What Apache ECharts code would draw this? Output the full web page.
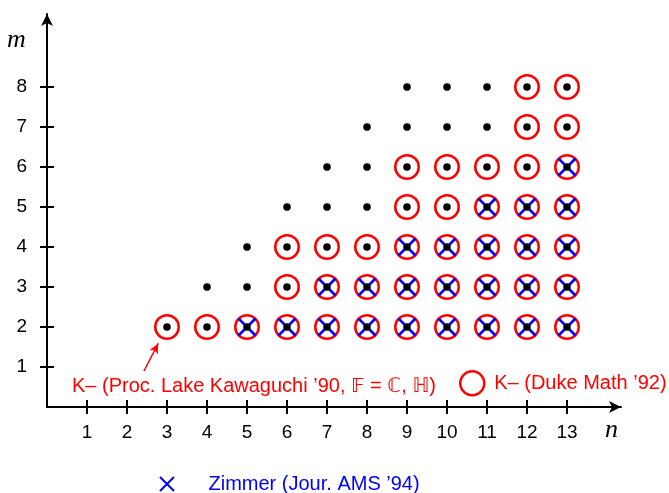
<!DOCTYPE html>
<html><head><meta charset="utf-8">
<script src="https://cdn.jsdelivr.net/npm/echarts@6/dist/echarts.min.js"></script>
<style>html,body{margin:0;padding:0;background:#fff}#c{width:669px;height:493px}</style>
</head><body><div id="c"></div>
<script>
// tick labels
const nTicks = [1,2,3,4,5,6,7,8,9,10,11,12,13];
const mTicks = [1,2,3,4,5,6,7,8];
// rows (m) and the n values present in each row
const rowM = [2,3,4,5,6,7,8];
const dotN = [
  [3,4,5,6,7,8,9,10,11,12,13],
  [4,5,6,7,8,9,10,11,12,13],
  [5,6,7,8,9,10,11,12,13],
  [6,7,8,9,10,11,12,13],
  [7,8,9,10,11,12,13],
  [8,9,10,11,12,13],
  [9,10,11,12,13]
];
const circleN = [
  [3,4,5,6,7,8,9,10,11,12,13],
  [6,7,8,9,10,11,12,13],
  [6,7,8,9,10,11,12,13],
  [9,10,11,12,13],
  [9,10,11,12,13],
  [12,13],
  [12,13]
];
const crossN = [
  [5,6,7,8,9,10,11,12,13],
  [7,8,9,10,11,12,13],
  [9,10,11,12,13],
  [11,12,13],
  [13],
  [],
  []
];
const nameCircle = 'K\u2013 (Duke Math \u201992)';
const nameCross = 'Zimmer (Jour. AMS \u201994)';
const nameKawa = 'K\u2013 (Proc. Lake Kawaguchi \u201990, \uD835\uDD3D = \u2102, \u210D)';

function pairs(rows) {
  const out = [];
  rows.forEach((ns, i) => ns.forEach(n => out.push([n, rowM[i]])));
  return out;
}
const FONT = "'Liberation Sans', Arial, Helvetica, sans-serif";
const RED = '#ff0000', BLUE = '#0000ff';
const crossPath = 'path://M0,0L10,10M10,0L0,10';

// main plot geometry: 40 px per unit, origin at (47, 407)
const X0 = 47, Y0 = 407, U = 40, XMAX = 14.35, YMAX = 9.825;
const nMax = nTicks[nTicks.length - 1], mMax = mTicks[mTicks.length - 1];

const chart = echarts.init(document.getElementById('c'), null, {renderer: 'canvas'});
const axisLineStyle = {color: '#000', width: 2};
const tickStyle = {color: '#000', width: 2};
chart.setOption({
  animation: false,
  backgroundColor: '#fff',
  grid: [
    {left: X0, top: Y0 - U * YMAX, width: U * XMAX, height: U * YMAX},
    // strip just right of the y axis: its split lines form the inner half of the m ticks
    {left: X0, top: Y0 - U * mMax, width: 7, height: U * mMax},
    // strip just above the x axis: its split lines form the inner half of the n ticks
    {left: X0, top: Y0 - 7, width: U * nMax, height: 7}
  ],
  xAxis: [
    {type: 'value', gridIndex: 0, min: 0, max: XMAX, position: 'bottom',
     splitLine: {show: false},
     axisLine: {show: true, onZero: true, lineStyle: axisLineStyle, symbol: ['none', 'arrow'], symbolSize: [9, 12]},
     axisTick: {show: true, length: 7, lineStyle: tickStyle, customValues: nTicks},
     axisLabel: {show: true, margin: 16, fontSize: 19, fontFamily: FONT, color: '#000', customValues: nTicks}},
    {type: 'value', gridIndex: 1, min: 0, max: 1, show: false},
    {type: 'value', gridIndex: 2, min: 0, max: nMax, interval: 1, show: true,
     axisLine: {show: false}, axisTick: {show: false}, axisLabel: {show: false},
     splitLine: {show: true, lineStyle: tickStyle}}
  ],
  yAxis: [
    {type: 'value', gridIndex: 0, min: 0, max: YMAX, position: 'left',
     splitLine: {show: false},
     axisLine: {show: true, onZero: true, lineStyle: axisLineStyle, symbol: ['none', 'arrow'], symbolSize: [9, 12]},
     axisTick: {show: true, length: 7, lineStyle: tickStyle, customValues: mTicks},
     axisLabel: {show: true, margin: 20, fontSize: 19, fontFamily: FONT, color: '#000', customValues: mTicks,
                 padding: [3, 0, 0, 0]}},
    {type: 'value', gridIndex: 1, min: 0, max: mMax, interval: 1, show: true,
     axisLine: {show: false}, axisTick: {show: false}, axisLabel: {show: false},
     splitLine: {show: true, lineStyle: tickStyle}},
    {type: 'value', gridIndex: 2, min: 0, max: 1, show: false}
  ],
  legend: [
    {left: 459, top: 370, padding: 0, orient: 'horizontal', itemWidth: 34, itemHeight: 24,
     data: [{name: nameCircle, icon: 'circle'}],
     itemStyle: {color: 'rgba(0,0,0,0)', borderColor: RED, borderWidth: 2.5},
     textStyle: {color: RED, fontSize: 20, fontFamily: FONT}},
    {left: 159, top: 474, padding: 0, orient: 'horizontal', itemWidth: 15, itemHeight: 14,
     data: [{name: nameCross, icon: crossPath}],
     itemStyle: {color: 'rgba(0,0,0,0)', borderColor: BLUE, borderWidth: 2},
     textStyle: {color: BLUE, fontSize: 20, fontFamily: FONT, padding: [0, 0, 0, 29]}}
  ],
  series: [
    {name: nameCircle, type: 'scatter', xAxisIndex: 0, yAxisIndex: 0,
     symbol: 'circle', symbolSize: 23.5, data: pairs(circleN),
     itemStyle: {color: 'rgba(0,0,0,0)', borderColor: RED, borderWidth: 2.5, opacity: 1},
     emphasis: {disabled: true}, z: 2},
    {name: nameCross, type: 'scatter', xAxisIndex: 0, yAxisIndex: 0,
     symbol: crossPath, symbolSize: 17, data: pairs(crossN),
     itemStyle: {color: 'rgba(0,0,0,0)', borderColor: BLUE, borderWidth: 2.5, opacity: 1},
     emphasis: {disabled: true}, z: 3},
    {name: 'dots', type: 'scatter', xAxisIndex: 0, yAxisIndex: 0,
     symbol: 'circle', symbolSize: 7.5, data: pairs(dotN),
     itemStyle: {color: '#000', opacity: 1},
     emphasis: {disabled: true}, z: 4,
     markLine: {silent: true, symbol: ['none', 'arrow'], symbolSize: [7, 10],
       lineStyle: {color: RED, width: 1.5, type: 'solid'}, label: {show: false},
       data: [[{x: 144, y: 371}, {x: 158.2, y: 343.4}]]}},
    {name: 'stripY', type: 'scatter', xAxisIndex: 1, yAxisIndex: 1, data: [], silent: true},
    {name: 'stripX', type: 'scatter', xAxisIndex: 2, yAxisIndex: 2, data: [], silent: true}
  ],
  graphic: [
    {type: 'text', left: 7, top: 27, style: {text: 'm', font: "italic 26px 'Liberation Serif', 'DejaVu Serif', serif", fill: '#000'}},
    {type: 'text', left: 605, top: 417, style: {text: 'n', font: "italic 26px 'Liberation Serif', 'DejaVu Serif', serif", fill: '#000'}},
    {type: 'text', left: 72, top: 376, style: {text: nameKawa, font: "20px 'Liberation Sans', Arial, 'DejaVu Sans', sans-serif", fill: RED}}
  ]
});
</script></body></html>
